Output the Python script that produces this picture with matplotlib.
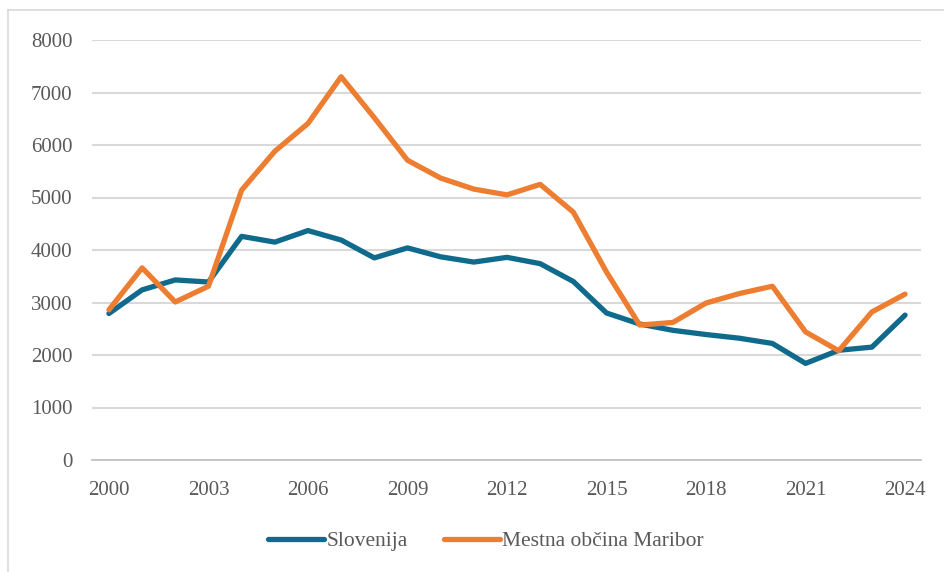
import matplotlib
matplotlib.use("Agg")
import matplotlib.pyplot as plt
from matplotlib.lines import Line2D

years = list(range(2000, 2025))
slovenija = [2790, 3240, 3430, 3390, 4260, 4150, 4370, 4190, 3850, 4040, 3870, 3770,
             3860, 3740, 3400, 2800, 2590, 2470, 2390, 2320, 2220, 1840, 2090, 2150, 2760]
maribor = [2860, 3660, 3010, 3310, 5140, 5880, 6410, 7300, 6520, 5710, 5370, 5160,
           5050, 5250, 4720, 3580, 2570, 2620, 2990, 3170, 3310, 2440, 2080, 2820, 3160]
xticks = [2000, 2003, 2006, 2009, 2012, 2015, 2018, 2021, 2024]
yticks = [0, 1000, 2000, 3000, 4000, 5000, 6000, 7000, 8000]

blue = "#0F6A8C"
orange = "#ED7D31"
font = ["Liberation Serif", "DejaVu Serif"]
plt.rcParams["font.family"] = font

fig = plt.figure(figsize=(9.44, 5.72), dpi=100)
ax = fig.add_axes([92/944, 1 - 460/572, (921-92)/944, (460-40)/572])

ax.plot(years, slovenija, color=blue, lw=3.8, solid_capstyle="round", solid_joinstyle="round", label="Slovenija")
ax.plot(years, maribor, color=orange, lw=3.8, solid_capstyle="round", solid_joinstyle="round", label="Mestna občina Maribor")

ax.set_xlim(1999.49, 2024.48)
ax.set_ylim(0, 8000)
ax.set_xticks(xticks)
ax.set_yticks(yticks)
ax.set_xticklabels([str(x) for x in xticks])
ax.set_yticklabels([str(y) for y in yticks])
ax.grid(axis="y", color="#D9D9D9", lw=1.5)
ax.set_axisbelow(True)
for s in ["top", "right", "left"]:
    ax.spines[s].set_visible(False)
ax.spines["bottom"].set_color("#BFBFBF")
ax.spines["bottom"].set_linewidth(1.2)
ax.tick_params(axis="both", length=0, labelsize=15, labelcolor="#595959")
ax.tick_params(axis="x", pad=15)
ax.tick_params(axis="y", pad=14)

leg = fig.legend(loc="center", bbox_to_anchor=(486/944, 1 - 541/572), ncol=2, frameon=False,
                 fontsize=15.5, handlelength=2.6, handletextpad=0.1, columnspacing=1.7)
for t in leg.get_texts():
    t.set_color("#595959")

# outer frame
fig.add_artist(Line2D([8/944, 8/944], [0, 1 - 10/572], color="#D9D9D9", lw=1.2, transform=fig.transFigure))
fig.add_artist(Line2D([8/944, 1], [1 - 10/572, 1 - 10/572], color="#D9D9D9", lw=1.2, transform=fig.transFigure))

fig.savefig("out.png", dpi=100)
